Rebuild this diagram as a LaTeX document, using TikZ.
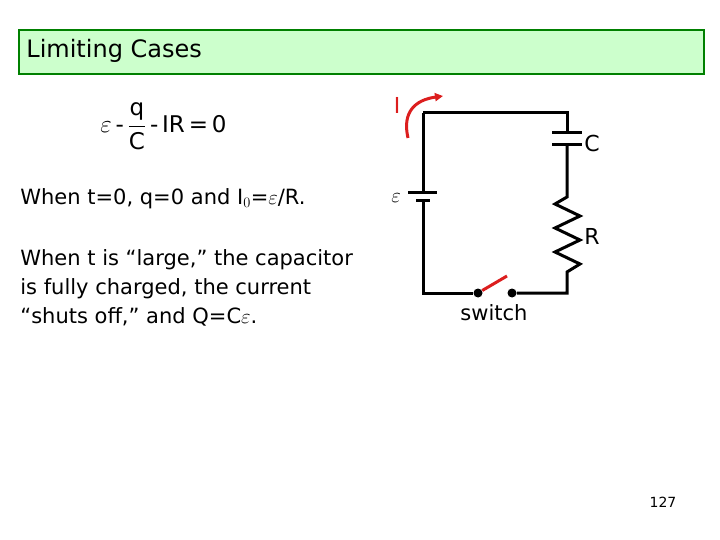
\documentclass[tikz,border=0pt]{standalone}
\usepackage{amsmath}
\usepackage{fontspec}
\setmainfont{DejaVu Sans}
\usepackage{xcolor}
\usetikzlibrary{arrows.meta,positioning}
\definecolor{titlefill}{RGB}{204,255,204}
\definecolor{titledraw}{RGB}{0,128,0}
\definecolor{wirered}{RGB}{220,30,30}
\begin{document}
\begin{tikzpicture}[x=1pt,y=-1pt,thick,
      wire/.style={line width=3pt},
      plate/.style={line width=3pt},
      txt node/.style={font=\fontsize{21}{29}\selectfont,anchor=west,align=left,inner sep=0pt},
      lbl node/.style={font=\fontsize{22}{24}\selectfont,inner sep=0pt},
      dot node/.style={circle,fill=black,inner sep=0pt,minimum size=9pt}]
    \useasboundingbox (0,0) rectangle (720,540);

    % title bar
    \node[draw=titledraw,fill=titlefill,line width=2pt,minimum width=685pt,minimum height=44pt,anchor=north west,inner sep=0pt] (title) at (18,29) {};
    \node[txt node,font=\fontsize{24}{26}\selectfont] (tt) at (26,51) {Limiting Cases};

    % left texts
    \node[txt node,font=\fontsize{23}{26}\selectfont] (eq) at (100,126) {$\varepsilon$\,-\,$\genfrac{}{}{0.8pt}{0}{\mathrm{q}}{\mathrm{C}}$\,-\,IR\,=\,0};
    \node[txt node] (t1) at (20,199) {When t=0, q=0 and I$_0$=$\varepsilon$/R.};
    \node[txt node] (t2) at (20,288) {When t is \textquotedblleft large,\textquotedblright\ the capacitor\\is fully charged, the current\\\textquotedblleft shuts off,\textquotedblright\ and Q=C$\varepsilon$.};

    % circuit corners
    \coordinate (tl) at (423,113);
    \coordinate (tr) at (567,113);
    \coordinate (bl) at (423,293);
    \coordinate (br) at (567,293);
    \node[dot node] (s1) at (478,293) {};
    \node[dot node] (s2) at (512,293) {};

    % wires
    \draw[wire] (tl) -- (tr) -- (567,133);
    \draw[wire] (567,145) -- (567,197)
        -- (555,204) -- (580,216) -- (555,228) -- (580,240) -- (555,252) -- (580,264) -- (567,272)
        -- (br) -- (s2);
    \draw[wire] (s1) -- (bl) -- (423,201);
    \draw[wire] (423,193) -- (tl);
    % capacitor
    \draw[plate] (552,133) -- (582,133);
    \draw[plate] (552,145) -- (582,145);
    % battery
    \draw[plate] (408,193) -- (437,193);
    \draw[plate] (416,201) -- (430,201);
    % switch
    \draw[wirered,line width=3pt] (s1) -- (507,276);
    % current arrow
    \draw[wirered,line width=3pt,-{Triangle[length=8pt,width=8pt]}] (408,138) .. controls (402,112) and (415,100) .. (443,96);

    % labels
    \node[lbl node,text=wirered,font=\fontsize{22}{24}\selectfont\rmfamily] (i) at (397,105) {I};
    \node[lbl node] (c) at (592,143) {C};
    \node[lbl node] (r) at (592,236) {R};
    \node[lbl node] (e) at (396,198) {$\varepsilon$};
    \node[lbl node,font=\fontsize{21}{24}\selectfont] (sw) at (494,313) {switch};
    \node[font=\fontsize{14}{16}\selectfont,inner sep=0pt] (pg) at (663,502) {127};
\end{tikzpicture}
\end{document}
